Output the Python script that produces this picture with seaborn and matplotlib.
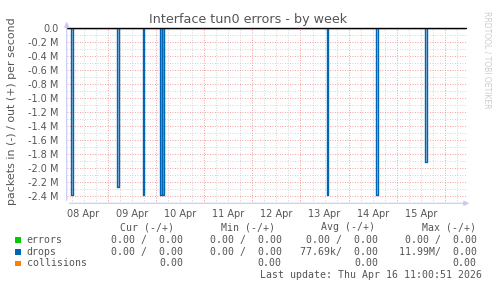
import matplotlib
matplotlib.use("Agg")
import matplotlib.pyplot as plt
import matplotlib.patches as mpatches
import numpy as np
import pandas as pd
import seaborn as sns

# ---- data (days since 08 Apr 00:00, values in millions of packets/s) ----
spike_day = [0.263, 1.207, 1.741, 2.102, 2.154, 5.560, 6.593, 7.608]
spike_drops_M = [-2.39, -2.27, -2.39, -2.39, -2.39, -2.38, -2.38, -1.91]
day_labels = ["08 Apr", "09 Apr", "10 Apr", "11 Apr", "12 Apr", "13 Apr", "14 Apr", "15 Apr"]
ytick_vals = [0.0, -0.2, -0.4, -0.6, -0.8, -1.0, -1.2, -1.4, -1.6, -1.8, -2.0, -2.2, -2.4]
ytick_labels = ["0.0"] + ["%.1f M" % v for v in ytick_vals[1:]]
legend_names = ["errors", "drops", "collisions"]
legend_colors = ["#00cc00", "#0066b3", "#ff8000"]
cur_vals = ["0.00 /  0.00", "0.00 /  0.00", "0.00"]
min_vals = ["0.00 /  0.00", "0.00 /  0.00", "0.00"]
avg_vals = ["0.00 /  0.00", "77.69k/  0.00", "0.00"]
max_vals = ["0.00 /  0.00", "11.99M/  0.00", "0.00"]
x_start, x_end = 0.149, 8.434
half_w = 0.018

# build the drops series from the spike list
ts, vs = [x_start], [0.0]
for d, v in zip(spike_day, spike_drops_M):
    ts += [d - half_w, d - half_w, d + half_w, d + half_w]
    vs += [0.0, v, v, 0.0]
ts.append(x_end)
vs.append(0.0)
df = pd.DataFrame({"day": ts, "drops": vs})

sns.set_style("white")
plt.rcParams["font.family"] = ["DejaVu Sans"]

W, H = 497, 288
fig = plt.figure(figsize=(W / 100, H / 100), dpi=100)
fig.patch.set_facecolor("white")
L, R, T, B = 66.7, 466.0, 28.3, 203.3
ax = fig.add_axes([L / W, 1 - B / H, (R - L) / W, (B - T) / H])
ax.set_facecolor("white")
ax.set_xlim(x_start, x_end)
ax.set_ylim(-2.503, 0.0)

# grid
dot = (0, (1, 2))
for k in range(0, 9 * 4):
    x = k / 4
    if x <= x_start or x >= x_end:
        continue
    if k % 4 == 0:
        ax.axvline(x, color="#f08080", lw=0.6, ls=dot, zorder=1)
    else:
        ax.axvline(x, color="#c8c8c8", lw=0.6, ls=dot, zorder=1)
for k in range(1, 26):
    y = -0.1 * k
    if k % 2 == 0:
        ax.axhline(y, color="#f08080", lw=0.6, ls=dot, zorder=1)
    else:
        ax.axhline(y, color="#c8c8c8", lw=0.6, ls=dot, zorder=1)

ax.fill_between(df["day"], df["drops"], 0, color="#0066b3", alpha=0.3, lw=0, zorder=2)
sns.lineplot(data=df, x="day", y="drops", sort=False, estimator=None,
             color="#0066b3", lw=1.0, ax=ax, zorder=3)
ax.axhline(0, color="black", lw=1.0, zorder=4, clip_on=False)

ax.set_xlabel("")
ax.set_ylabel("")
ax.set_xticks([i + 0.5 for i in range(len(day_labels))])
ax.set_xticklabels(day_labels)
ax.set_yticks(ytick_vals)
ax.set_yticklabels(ytick_labels)
ax.tick_params(axis="x", length=0, pad=4, labelsize=7, labelcolor="#555555")
ax.tick_params(axis="y", length=0, pad=6, labelsize=7, labelcolor="#555555")
for s in ["top", "right", "left", "bottom"]:
    ax.spines[s].set_visible(False)

# axis lines with arrows
axis_col = "#c8c8f0"
fig.add_artist(mpatches.FancyArrowPatch((L / W, 1 - B / H), (L / W, 1 - 19 / H),
               transform=fig.transFigure, arrowstyle="-|>,head_length=3,head_width=1.5",
               color=axis_col, lw=0.8, mutation_scale=1))
fig.add_artist(mpatches.FancyArrowPatch((L / W, 1 - B / H), (472 / W, 1 - B / H),
               transform=fig.transFigure, arrowstyle="-|>,head_length=3,head_width=1.5",
               color=axis_col, lw=0.8, mutation_scale=1))

# titles
fig.text(248 / W, 1 - 19 / H, "Interface tun0 errors - by week", ha="center", va="center",
         fontsize=9.2, color="#555555")
fig.text(12.5 / W, 1 - 111.5 / H, "packets in (-) / out (+) per second", rotation=90,
         ha="center", va="center", fontsize=7.9, color="#555555")
fig.text(487 / W, 1 - 60 / H, "RRDTOOL / TOBI OETIKER", rotation=270, ha="center",
         va="center", fontsize=5.5, color="#cccccc")

# legend table
mono = "DejaVu Sans Mono"
fs = 7.1
tc = "#555555"
hdr_y = 227.3
for txt, cx in zip(["Cur (-/+)", "Min (-/+)", "Avg (-/+)", "Max (-/+)"],
                   [147.5, 248.3, 348.3, 449.3]):
    fig.text(cx / W, 1 - hdr_y / H, txt, ha="center", va="center", family=mono,
             fontsize=fs, color=tc)
row_y = [239.7, 251.7, 263.3]
col_right = [183.3, 281.7, 378.3, 476.7]
for i, name in enumerate(legend_names):
    y = row_y[i]
    fig.add_artist(mpatches.Rectangle((15 / W, 1 - (y + 2.8) / H), 5.5 / W, 5.5 / H,
                   transform=fig.transFigure, color=legend_colors[i], lw=0))
    fig.text(26.7 / W, 1 - y / H, name, ha="left", va="center", family=mono,
             fontsize=fs, color=tc)
    for vals, xr in zip([cur_vals, min_vals, avg_vals, max_vals], col_right):
        fig.text(xr / W, 1 - y / H, vals[i], ha="right", va="center", family=mono,
                 fontsize=fs, color=tc)
fig.text(482.3 / W, 1 - 275.3 / H, "Last update: Thu Apr 16 11:00:51 2026", ha="right",
         va="center", family=mono, fontsize=fs, color=tc)

fig.savefig("out.png", dpi=100, facecolor="white")
